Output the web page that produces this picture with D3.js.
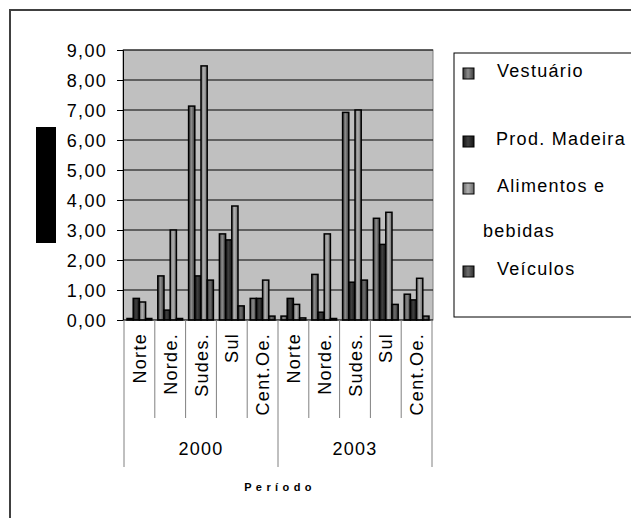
<!DOCTYPE html>
<html>
<head>
<meta charset="utf-8">
<script src="https://cdn.jsdelivr.net/npm/d3@7"></script>
<style>
  body { margin: 0; background: #fff; }
  svg text { font-family: "Liberation Sans", Arial, sans-serif; fill: #000; }
</style>
</head>
<body>
<svg width="631" height="518"></svg>
<script>
// data
var years = ["2000", "2003"],
    regions = ["Norte", "Norde.", "Sudes.", "Sul", "Cent.Oe."],
    seriesNames = ["Vestuário", "Prod. Madeira", "Alimentos e bebidas", "Veículos"],
    vestuario = [0.05, 1.47, 7.13, 2.87, 0.72, 0.13, 1.52, 6.92, 3.39, 0.86],
    prodMadeira = [0.72, 0.33, 1.47, 2.67, 0.72, 0.72, 0.26, 1.26, 2.52, 0.67],
    alimentos = [0.60, 3.00, 8.47, 3.80, 1.33, 0.52, 2.87, 7.00, 3.59, 1.39],
    veiculos = [0.05, 0.05, 1.33, 0.47, 0.13, 0.07, 0.05, 1.33, 0.52, 0.13],
    yTicks = [0, 1, 2, 3, 4, 5, 6, 7, 8, 9];

var seriesValues = [vestuario, prodMadeira, alimentos, veiculos];
// gradient stops: edge, centre
var seriesShades = [["#3a3a3a", "#8c8c8c"], ["#141414", "#404040"],
                    ["#6a6a6a", "#b0b0b0"], ["#2e2e2e", "#6e6e6e"]];

var svg = d3.select("svg"),
    plot = {left: 123, top: 50, right: 433, bottom: 320};

var cats = [];
years.forEach(function(yr) {
  regions.forEach(function(r) { cats.push(yr + "|" + r); });
});

var x = d3.scaleBand().domain(cats).range([124, 432]),
    xs = d3.scaleBand().domain(d3.range(seriesNames.length)).range([3, x.bandwidth() - 3]),
    y = d3.scaleLinear().domain([0, 9]).range([plot.bottom, plot.top]);

var comma = d3.formatLocale({decimal: ",", thousands: ".", grouping: [3], currency: ["", ""]}).format(".2f");

// gradients for the bars
var defs = svg.append("defs");
seriesShades.forEach(function(s, i) {
  var g = defs.append("linearGradient").attr("id", "grad" + i)
      .attr("x1", "0").attr("x2", "1").attr("y1", "0").attr("y2", "0");
  g.append("stop").attr("offset", "0%").attr("stop-color", s[0]);
  g.append("stop").attr("offset", "45%").attr("stop-color", s[1]);
  g.append("stop").attr("offset", "100%").attr("stop-color", s[0]);
});

// outer frame (left + top only visible)
svg.append("path")
    .attr("d", "M10,518V10H631")
    .attr("fill", "none")
    .attr("stroke", "#404040")
    .attr("stroke-width", 2);

// plot area
svg.append("rect")
    .attr("x", plot.left).attr("y", plot.top)
    .attr("width", plot.right - plot.left).attr("height", plot.bottom - plot.top)
    .attr("fill", "#c0c0c0")
    .attr("stroke", "#808080");

// gridlines
svg.append("g").selectAll("line")
    .data(yTicks.filter(function(d) { return d > 0; }))
    .enter().append("line")
    .attr("x1", plot.left).attr("x2", plot.right)
    .attr("y1", function(d) { return y(d); })
    .attr("y2", function(d) { return y(d); })
    .attr("stroke", "#000");

// y axis
var yAxis = svg.append("g")
    .attr("transform", "translate(" + plot.left + ",0)")
    .call(d3.axisLeft(y).tickValues(yTicks).tickSize(6).tickPadding(10).tickFormat(comma));
yAxis.select(".domain").attr("stroke", "#000");
yAxis.selectAll("text")
    .style("font-family", "'Liberation Sans', Arial, sans-serif")
    .style("font-size", "18px")
    .style("letter-spacing", "1.3px")
    .attr("fill", "#000")
    .attr("dy", "0.36em");

// bars
seriesValues.forEach(function(vals, si) {
  svg.append("g").selectAll("rect")
      .data(vals)
      .enter().append("rect")
      .attr("x", function(d, i) { return x(cats[i]) + xs(si); })
      .attr("y", function(d) { return y(d); })
      .attr("width", xs.bandwidth())
      .attr("height", function(d) { return y(0) - y(d); })
      .attr("fill", "url(#grad" + si + ")")
      .attr("stroke", "#000")
      .attr("stroke-width", 1.5);
});

// x axis line
svg.append("line")
    .attr("x1", plot.left).attr("x2", plot.right)
    .attr("y1", plot.bottom).attr("y2", plot.bottom)
    .attr("stroke", "#000");

// category separators
var bounds = cats.map(function(c) { return x(c); }).concat([x.range()[1]]);
svg.append("g").selectAll("line")
    .data(bounds)
    .enter().append("line")
    .attr("x1", function(d) { return d; }).attr("x2", function(d) { return d; })
    .attr("y1", plot.bottom)
    .attr("y2", function(d, i) { return (i % regions.length === 0) ? 467 : 418; })
    .attr("stroke", "#808080");

// category labels
svg.append("g").selectAll("text")
    .data(cats)
    .enter().append("text")
    .attr("transform", function(d) {
      return "translate(" + (x(d) + x.bandwidth() / 2 + 6.5) + ",333) rotate(-90)";
    })
    .attr("text-anchor", "end")
    .style("font-size", "18px")
    .style("letter-spacing", "1.3px")
    .text(function(d) { return d.split("|")[1]; });

// year labels
svg.append("g").selectAll("text")
    .data(years)
    .enter().append("text")
    .attr("x", function(yr) {
      return (x(yr + "|" + regions[0]) + x(yr + "|" + regions[regions.length - 1]) + x.bandwidth()) / 2;
    })
    .attr("y", 455)
    .attr("text-anchor", "middle")
    .style("font-size", "18px")
    .style("letter-spacing", "1.3px")
    .text(function(d) { return d; });

// x axis title
svg.append("text")
    .attr("x", 280).attr("y", 491)
    .attr("text-anchor", "middle")
    .style("font-size", "11px")
    .style("font-weight", "bold")
    .style("letter-spacing", "4.4px")
    .text("Período");

// redacted y axis title block
svg.append("rect")
    .attr("x", 36).attr("y", 127)
    .attr("width", 20).attr("height", 116)
    .attr("fill", "#000");

// legend
var legend = svg.append("g");
legend.append("rect")
    .attr("x", 454).attr("y", 53)
    .attr("width", 190).attr("height", 264)
    .attr("fill", "#fff")
    .attr("stroke", "#000");

var legendRows = [
  {lines: [{t: "Vestuário", x: 497, y: 77}], sy: 68},
  {lines: [{t: "Prod. Madeira", x: 496, y: 145}], sy: 136},
  {lines: [{t: "Alimentos e", x: 497, y: 192}, {t: "bebidas", x: 483, y: 237}], sy: 183},
  {lines: [{t: "Veículos", x: 497, y: 275}], sy: 266}
];
legendRows.forEach(function(row, i) {
  legend.append("rect")
      .attr("x", 463).attr("y", row.sy)
      .attr("width", 11).attr("height", 11)
      .attr("fill", "url(#grad" + i + ")")
      .attr("stroke", "#000");
  row.lines.forEach(function(l) {
    legend.append("text")
        .attr("x", l.x).attr("y", l.y)
        .style("font-size", "18px")
        .style("letter-spacing", "1.3px")
        .text(l.t);
  });
});
</script>
</body>
</html>
